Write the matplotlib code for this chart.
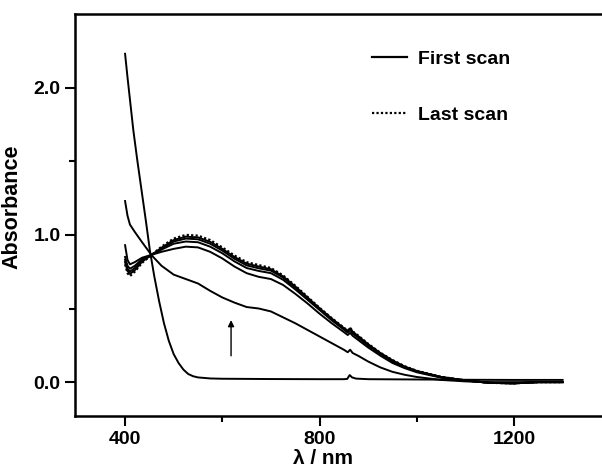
import matplotlib
matplotlib.use("Agg")
import matplotlib.pyplot as plt
from matplotlib.lines import Line2D

plt.rcParams["font.family"] = ["Liberation Sans", "DejaVu Sans"]
plt.rcParams["font.weight"] = "bold"

# First scan (steep edge), its own wavelength grid
wl_first = [400, 405, 410, 417, 425, 434, 443, 451, 460, 470, 480, 490, 500, 510, 520, 530,
            540, 550, 575, 600, 700, 800, 850, 857, 862, 867, 875, 900, 1000, 1100, 1200, 1300]
first = [2.23, 2.07, 1.92, 1.71, 1.51, 1.30, 1.09, 0.895, 0.72, 0.55, 0.40, 0.28, 0.19, 0.13, 0.085, 0.055,
         0.04, 0.032, 0.025, 0.023, 0.021, 0.02, 0.02, 0.022, 0.048, 0.032, 0.024, 0.02, 0.018, 0.016, 0.015, 0.015]

# Wavelength grid (nm) for the later scans
wl = [400, 405, 410, 420, 435, 455, 475, 500, 525, 550, 575, 600, 625, 650, 675,
      700, 725, 750, 775, 800, 825, 850, 858, 863, 868, 880, 900, 925, 950, 975,
      1000, 1050, 1100, 1150, 1200, 1250, 1300]

scan_b = [1.23, 1.13, 1.07, 1.02, 0.95, 0.86, 0.79, 0.73, 0.70, 0.67, 0.62, 0.575, 0.54, 0.51, 0.50,
          0.48, 0.44, 0.40, 0.355, 0.31, 0.265, 0.22, 0.203, 0.22, 0.198, 0.178, 0.14, 0.10, 0.07, 0.05,
          0.035, 0.015, 0.005, 0.0, 0.0, 0.0, 0.0]

scan_c = [0.93, 0.83, 0.80, 0.815, 0.845, 0.865, 0.885, 0.905, 0.92, 0.915, 0.885, 0.84, 0.785, 0.74, 0.715,
          0.70, 0.66, 0.60, 0.535, 0.465, 0.40, 0.34, 0.32, 0.335, 0.315, 0.285, 0.235, 0.18, 0.13, 0.095,
          0.067, 0.03, 0.01, -0.005, -0.008, 0.0, 0.0]

scan_d = [0.85, 0.79, 0.77, 0.79, 0.835, 0.865, 0.90, 0.94, 0.955, 0.95, 0.92, 0.875, 0.82, 0.775, 0.755,
          0.74, 0.695, 0.63, 0.56, 0.49, 0.42, 0.357, 0.337, 0.355, 0.332, 0.30, 0.248, 0.19, 0.14, 0.10,
          0.072, 0.033, 0.011, -0.005, -0.008, 0.0, 0.0]

scan_e = [0.83, 0.77, 0.75, 0.775, 0.825, 0.865, 0.905, 0.955, 0.975, 0.97, 0.94, 0.893, 0.838, 0.793, 0.773,
          0.757, 0.71, 0.642, 0.57, 0.497, 0.428, 0.363, 0.343, 0.362, 0.338, 0.307, 0.254, 0.195, 0.145, 0.104,
          0.074, 0.034, 0.012, -0.005, -0.008, 0.0, 0.0]

scan_f = [0.815, 0.755, 0.735, 0.76, 0.818, 0.865, 0.913, 0.965, 0.988, 0.983, 0.953, 0.905, 0.85, 0.805, 0.785,
          0.767, 0.718, 0.65, 0.576, 0.502, 0.432, 0.367, 0.347, 0.366, 0.342, 0.311, 0.257, 0.198, 0.148, 0.106,
          0.076, 0.035, 0.012, -0.005, -0.008, 0.0, 0.0]

last = [0.80, 0.74, 0.72, 0.75, 0.81, 0.865, 0.92, 0.975, 1.00, 0.995, 0.965, 0.915, 0.86, 0.815, 0.795,
        0.775, 0.725, 0.655, 0.58, 0.505, 0.435, 0.37, 0.35, 0.37, 0.345, 0.315, 0.26, 0.20, 0.15, 0.108,
        0.077, 0.036, 0.012, -0.005, -0.008, 0.0, 0.0]

fig = plt.figure(figsize=(6.02, 4.70), dpi=100)
ax = fig.add_axes([75 / 602, 54 / 470, 527 / 602, 402 / 470])

lw = 1.4
ax.plot(wl_first, first, color="black", lw=lw)
ax.plot(wl, scan_b, color="black", lw=lw)
for s in (scan_c, scan_d, scan_e, scan_f):
    ax.plot(wl, s, color="black", lw=lw)
ax.plot(wl, last, color="black", lw=1.6, ls=(0, (1, 1)))

# arrow showing growth direction
ax.annotate("", xy=(618, 0.44), xytext=(618, 0.16),
            arrowprops=dict(arrowstyle="-|>", color="black", lw=1.0, mutation_scale=9))

ax.set_xlim(297, 1381)
ax.set_ylim(-0.23, 2.5)
ax.set_xticks([400, 800, 1200])
ax.set_xticks([600, 1000], minor=True)
ax.set_yticks([0.0, 1.0, 2.0])
ax.set_yticks([0.5, 1.5], minor=True)
ax.set_yticklabels(["0.0", "1.0", "2.0"])

for side in ("left", "bottom", "top"):
    ax.spines[side].set_linewidth(1.8)
ax.spines["right"].set_visible(False)
ax.tick_params(which="major", direction="out", length=7, width=1.5, labelsize=14)
ax.tick_params(which="minor", direction="out", length=4, width=1.5)

ax.set_xlabel("λ / nm", fontsize=15, fontweight="bold")
ax.xaxis.set_label_coords(0.47, -0.082)
ax.set_ylabel("Absorbance", fontsize=15.5, fontweight="bold")
ax.yaxis.set_label_coords(-0.1, 0.52)

handles = [Line2D([], [], color="black", lw=1.6),
           Line2D([], [], color="black", lw=1.6, ls=(0, (1, 1)))]
ax.legend(handles, ["First scan", "Last scan"], loc="upper left",
          bbox_to_anchor=((372 - 75) / 527, 0.91), frameon=False,
          prop={"weight": "bold", "size": 14}, handlelength=1.8,
          handletextpad=0.55, labelspacing=2.0, borderpad=0, borderaxespad=0)

fig.savefig("out.png", dpi=100)
